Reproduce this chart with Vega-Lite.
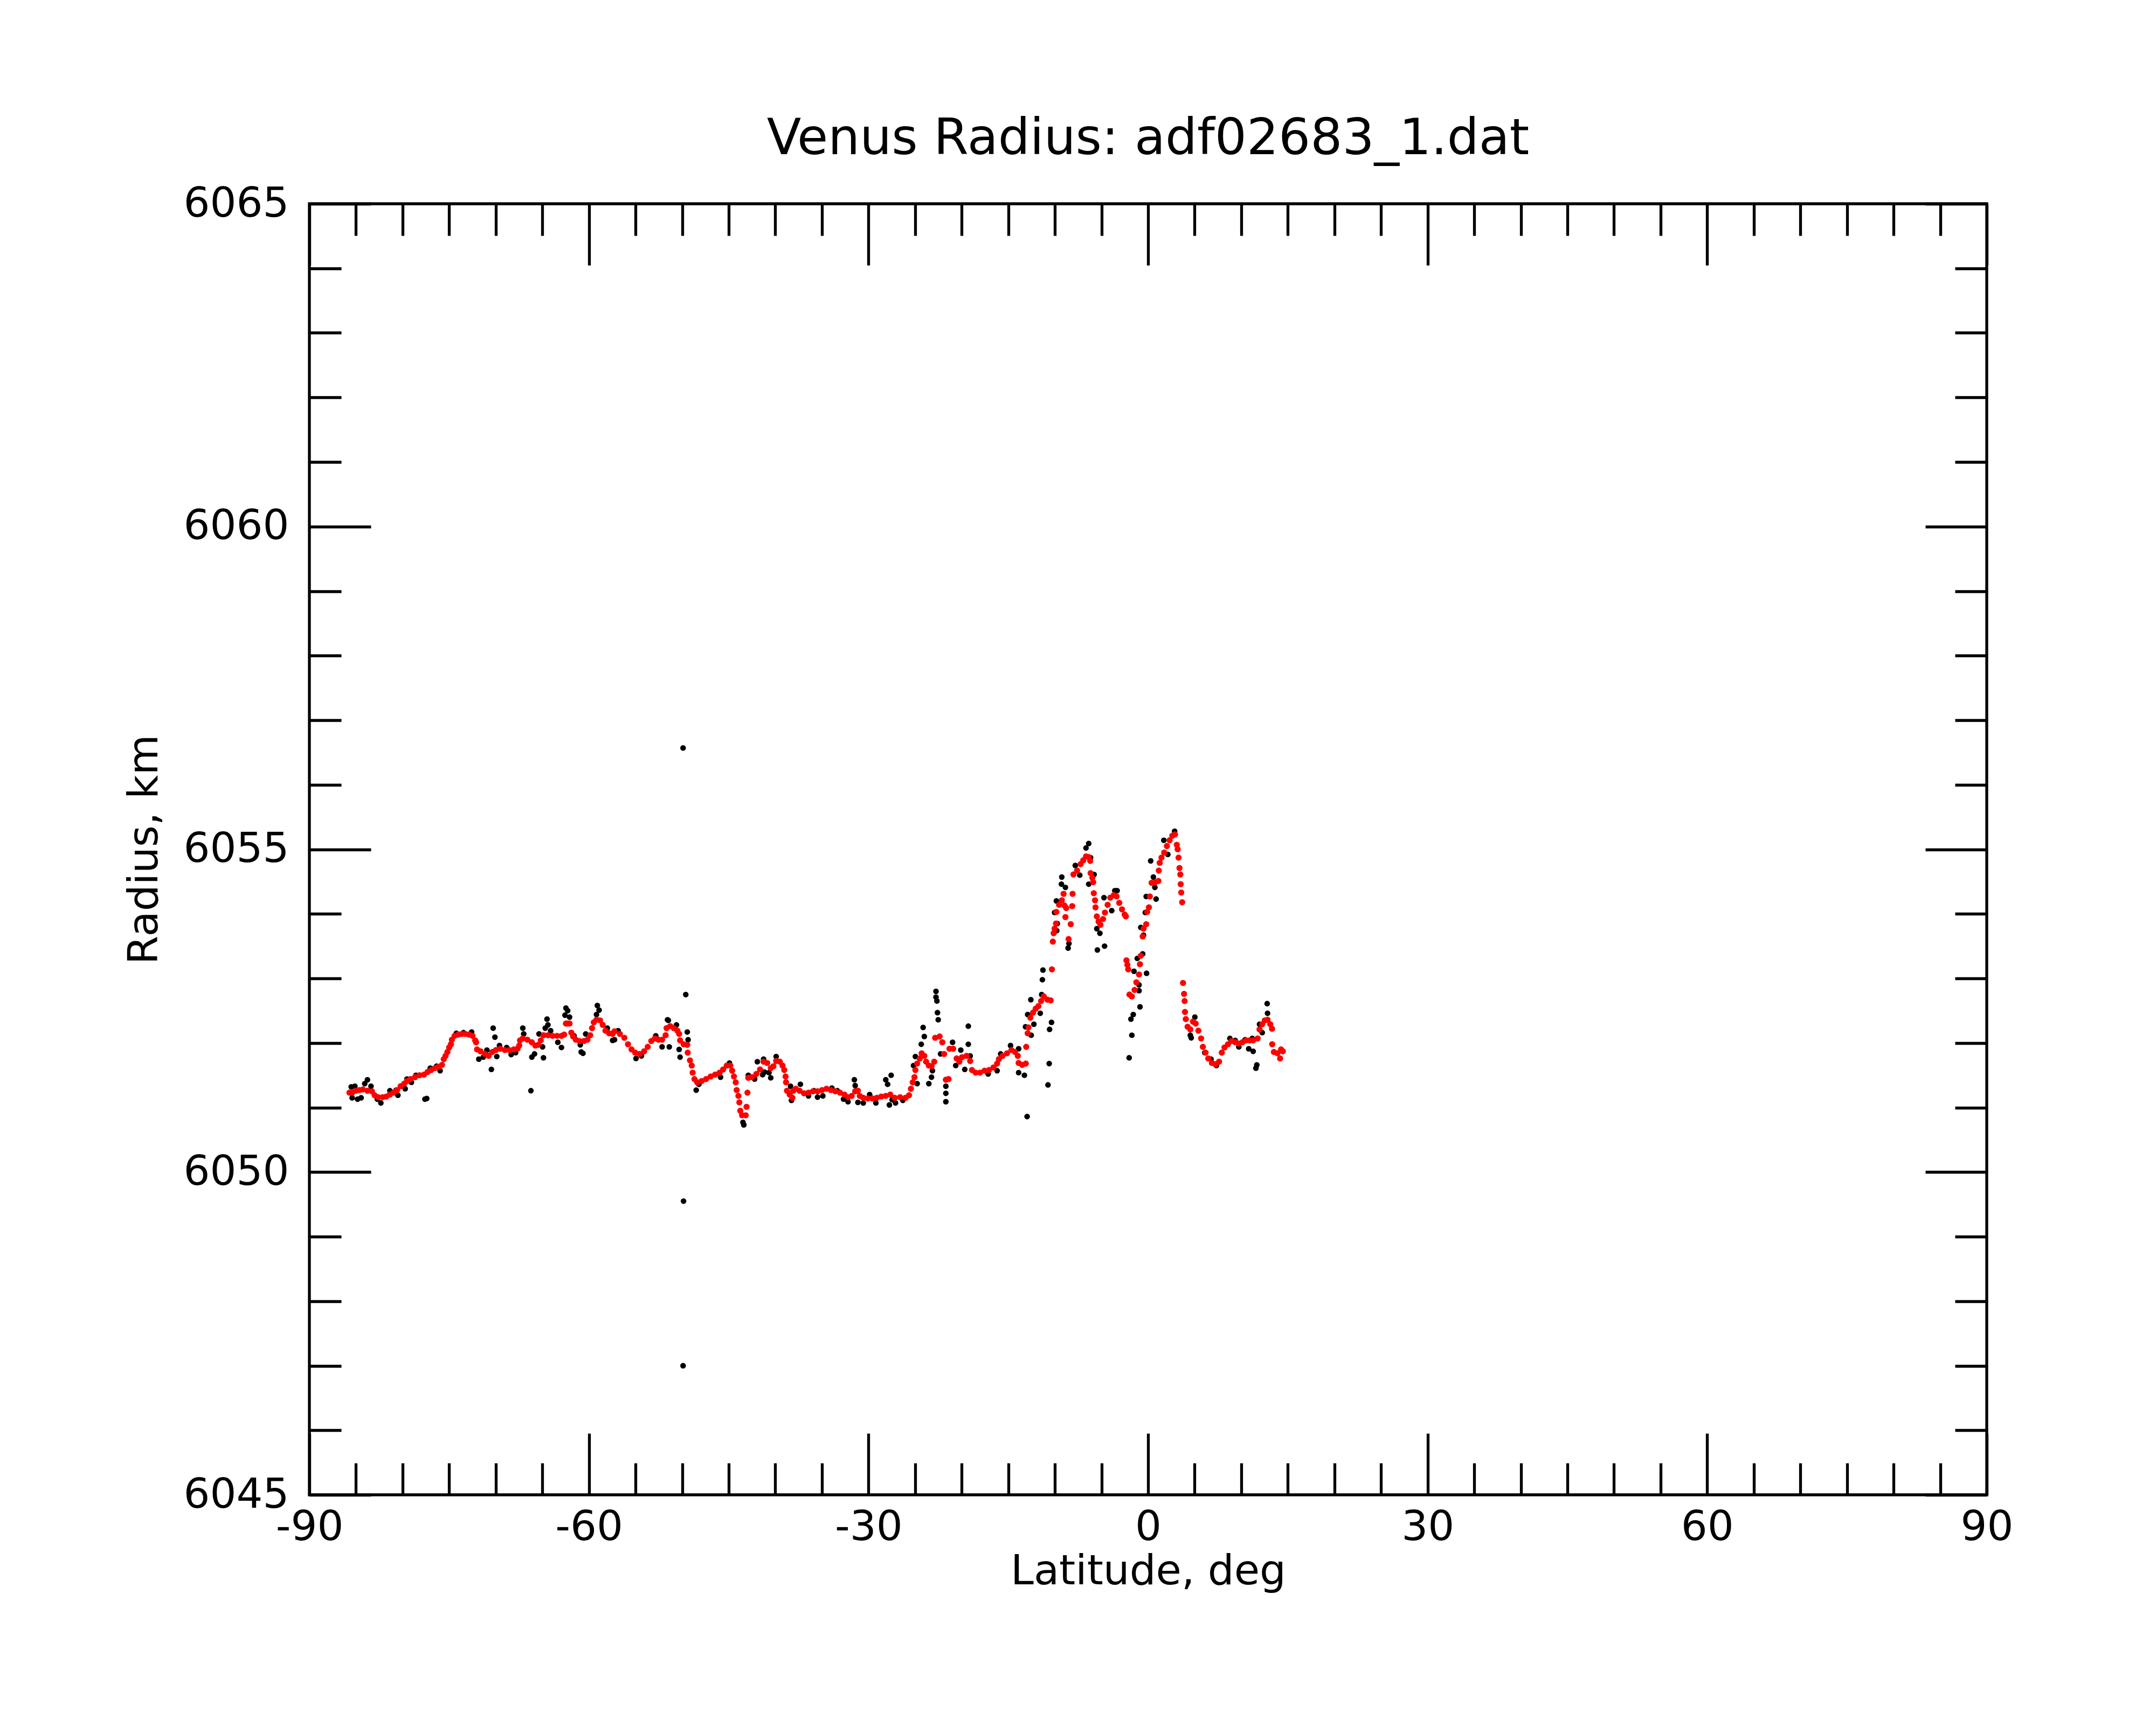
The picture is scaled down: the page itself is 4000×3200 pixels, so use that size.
{
  "$schema": "https://vega.github.io/schema/vega-lite/v6.json",
  "autosize": "none",
  "width": 3112,
  "height": 2395,
  "padding": {"left": 574, "top": 378, "right": 314, "bottom": 427},
  "background": "white",
  "title": {
    "text": "Venus Radius: adf02683_1.dat",
    "font": "DejaVu Sans",
    "fontSize": 93,
    "fontWeight": "normal",
    "color": "#000000",
    "baseline": "alphabetic",
    "anchor": "middle",
    "frame": "group",
    "offset": -40
  },
  "config": {
    "view": {"stroke": "#000000", "strokeWidth": 5.3},
    "axis": {
      "labelFont": "DejaVu Sans",
      "labelFontSize": 77,
      "labelColor": "#000000",
      "labelLimit": 0,
      "titleFont": "DejaVu Sans",
      "titleFontSize": 77,
      "titleFontWeight": "normal",
      "titleColor": "#000000",
      "domain": false,
      "ticks": false,
      "tickSize": 0,
      "grid": true,
      "gridColor": "#000000",
      "gridOpacity": 1,
      "gridWidth": 5.3,
      "gridCap": "butt"
    }
  },
  "datasets": {
    "raw": [
      {"lat": -85.51, "r": 6051.32}, {"lat": -85.12, "r": 6051.33}, {"lat": -85.41, "r": 6051.15}, {"lat": -84.83, "r": 6051.13},
      {"lat": -84.45, "r": 6051.15}, {"lat": -84.06, "r": 6051.37}, {"lat": -83.77, "r": 6051.43}, {"lat": -83.39, "r": 6051.33},
      {"lat": -82.33, "r": 6051.07}, {"lat": -82.71, "r": 6051.13}, {"lat": -81.36, "r": 6051.26}, {"lat": -80.5, "r": 6051.19},
      {"lat": -80.69, "r": 6051.27}, {"lat": -79.72, "r": 6051.29}, {"lat": -79.53, "r": 6051.44}, {"lat": -79.05, "r": 6051.39},
      {"lat": -78.57, "r": 6051.5}, {"lat": -77.6, "r": 6051.13}, {"lat": -77.41, "r": 6051.14}, {"lat": -77.03, "r": 6051.61},
      {"lat": -76.35, "r": 6051.64}, {"lat": -75.97, "r": 6051.57}, {"lat": -74.23, "r": 6052.15}, {"lat": -73.46, "r": 6052.16},
      {"lat": -72.59, "r": 6052.17}, {"lat": -71.82, "r": 6051.75}, {"lat": -71.34, "r": 6051.78}, {"lat": -70.95, "r": 6051.89},
      {"lat": -70.47, "r": 6051.59}, {"lat": -70.28, "r": 6052.23}, {"lat": -70.09, "r": 6052.09}, {"lat": -69.89, "r": 6051.79},
      {"lat": -69.6, "r": 6051.96}, {"lat": -68.83, "r": 6051.93}, {"lat": -68.35, "r": 6051.82}, {"lat": -67.87, "r": 6051.85},
      {"lat": -67.1, "r": 6052.23}, {"lat": -67.0, "r": 6052.14}, {"lat": -66.23, "r": 6051.26}, {"lat": -66.13, "r": 6051.78},
      {"lat": -65.84, "r": 6051.83}, {"lat": -65.36, "r": 6052.14}, {"lat": -64.98, "r": 6051.94}, {"lat": -64.88, "r": 6051.77},
      {"lat": -64.5, "r": 6052.37}, {"lat": -64.4, "r": 6052.28}, {"lat": -64.11, "r": 6052.19}, {"lat": -64.69, "r": 6052.23},
      {"lat": -63.34, "r": 6052.01}, {"lat": -62.95, "r": 6051.93}, {"lat": -62.47, "r": 6052.54}, {"lat": -62.28, "r": 6052.5},
      {"lat": -62.57, "r": 6052.43}, {"lat": -62.08, "r": 6052.4}, {"lat": -61.6, "r": 6052.11}, {"lat": -60.83, "r": 6051.86},
      {"lat": -60.64, "r": 6051.84}, {"lat": -60.93, "r": 6051.97}, {"lat": -60.35, "r": 6052.14}, {"lat": -59.1, "r": 6052.58},
      {"lat": -58.91, "r": 6052.51}, {"lat": -59.19, "r": 6052.44}, {"lat": -58.03, "r": 6052.23}, {"lat": -57.46, "r": 6052.04},
      {"lat": -56.87, "r": 6052.19}, {"lat": -57.26, "r": 6052.05}, {"lat": -54.95, "r": 6051.76}, {"lat": -54.37, "r": 6051.8},
      {"lat": -52.83, "r": 6052.11}, {"lat": -52.15, "r": 6051.94}, {"lat": -51.38, "r": 6051.94}, {"lat": -51.57, "r": 6052.36},
      {"lat": -51.48, "r": 6052.35}, {"lat": -50.61, "r": 6052.28}, {"lat": -50.32, "r": 6051.9}, {"lat": -50.22, "r": 6051.78},
      {"lat": -49.45, "r": 6052.17}, {"lat": -49.36, "r": 6052.05}, {"lat": -49.61, "r": 6052.75}, {"lat": -49.9, "r": 6056.57},
      {"lat": -49.85, "r": 6049.55}, {"lat": -49.9, "r": 6047.0}, {"lat": -48.49, "r": 6051.27}, {"lat": -48.2, "r": 6051.36},
      {"lat": -45.88, "r": 6051.47}, {"lat": -44.92, "r": 6051.69}, {"lat": -43.47, "r": 6050.77}, {"lat": -43.38, "r": 6050.73},
      {"lat": -42.9, "r": 6051.5}, {"lat": -42.22, "r": 6051.44}, {"lat": -41.93, "r": 6051.71}, {"lat": -41.26, "r": 6051.75},
      {"lat": -41.16, "r": 6051.55}, {"lat": -41.36, "r": 6051.51}, {"lat": -40.49, "r": 6051.46}, {"lat": -40.68, "r": 6051.54},
      {"lat": -39.91, "r": 6051.79}, {"lat": -38.37, "r": 6051.33}, {"lat": -38.27, "r": 6051.11}, {"lat": -37.31, "r": 6051.36},
      {"lat": -36.44, "r": 6051.18}, {"lat": -35.86, "r": 6051.26}, {"lat": -35.47, "r": 6051.16}, {"lat": -34.9, "r": 6051.18},
      {"lat": -33.93, "r": 6051.3}, {"lat": -33.35, "r": 6051.26}, {"lat": -32.68, "r": 6051.13}, {"lat": -32.2, "r": 6051.09},
      {"lat": -31.52, "r": 6051.43}, {"lat": -31.43, "r": 6051.34}, {"lat": -31.14, "r": 6051.08}, {"lat": -30.56, "r": 6051.07},
      {"lat": -29.88, "r": 6051.2}, {"lat": -29.21, "r": 6051.07}, {"lat": -28.15, "r": 6051.43}, {"lat": -27.95, "r": 6051.36},
      {"lat": -27.76, "r": 6051.04}, {"lat": -27.57, "r": 6051.5}, {"lat": -27.47, "r": 6051.12}, {"lat": -27.1, "r": 6051.07},
      {"lat": -26.32, "r": 6051.11}, {"lat": -25.17, "r": 6051.65}, {"lat": -24.97, "r": 6051.79}, {"lat": -24.78, "r": 6051.37},
      {"lat": -24.34, "r": 6051.98}, {"lat": -24.14, "r": 6052.24}, {"lat": -24.01, "r": 6052.1}, {"lat": -23.53, "r": 6051.37},
      {"lat": -23.24, "r": 6051.47}, {"lat": -23.14, "r": 6051.57}, {"lat": -22.76, "r": 6052.8}, {"lat": -22.76, "r": 6052.71},
      {"lat": -22.66, "r": 6052.65}, {"lat": -22.6, "r": 6052.47}, {"lat": -22.52, "r": 6052.36}, {"lat": -22.27, "r": 6051.83},
      {"lat": -21.7, "r": 6051.33}, {"lat": -21.7, "r": 6051.22}, {"lat": -21.7, "r": 6051.09}, {"lat": -20.98, "r": 6052.01},
      {"lat": -20.64, "r": 6051.65}, {"lat": -20.1, "r": 6051.89}, {"lat": -19.67, "r": 6051.59}, {"lat": -19.29, "r": 6052.26},
      {"lat": -19.29, "r": 6051.98}, {"lat": -19.09, "r": 6051.8}, {"lat": -17.16, "r": 6051.52}, {"lat": -16.2, "r": 6051.57},
      {"lat": -15.82, "r": 6051.83}, {"lat": -14.76, "r": 6051.96}, {"lat": -13.89, "r": 6051.91}, {"lat": -13.89, "r": 6051.54},
      {"lat": -13.27, "r": 6051.5}, {"lat": -12.98, "r": 6050.86}, {"lat": -13.15, "r": 6052.25}, {"lat": -12.92, "r": 6052.44},
      {"lat": -12.58, "r": 6052.67}, {"lat": -12.54, "r": 6052.12}, {"lat": -12.25, "r": 6052.29}, {"lat": -11.57, "r": 6052.46},
      {"lat": -11.42, "r": 6052.75}, {"lat": -11.28, "r": 6053.13}, {"lat": -11.34, "r": 6052.98}, {"lat": -10.74, "r": 6051.35},
      {"lat": -10.61, "r": 6051.68}, {"lat": -10.57, "r": 6052.21}, {"lat": -10.36, "r": 6052.32}, {"lat": -10.03, "r": 6054.02},
      {"lat": -9.84, "r": 6054.2}, {"lat": -9.8, "r": 6053.74}, {"lat": -9.74, "r": 6053.85}, {"lat": -9.3, "r": 6054.46},
      {"lat": -9.26, "r": 6054.57}, {"lat": -8.87, "r": 6054.41}, {"lat": -8.58, "r": 6053.47}, {"lat": -8.49, "r": 6053.54},
      {"lat": -7.81, "r": 6054.75}, {"lat": -7.33, "r": 6054.6}, {"lat": -6.66, "r": 6055.02}, {"lat": -6.37, "r": 6055.09},
      {"lat": -6.17, "r": 6054.87}, {"lat": -6.37, "r": 6054.46}, {"lat": -5.79, "r": 6054.61}, {"lat": -5.5, "r": 6053.77},
      {"lat": -5.44, "r": 6053.44}, {"lat": -5.17, "r": 6053.7}, {"lat": -4.73, "r": 6054.25}, {"lat": -4.67, "r": 6053.5},
      {"lat": -3.9, "r": 6054.05}, {"lat": -3.57, "r": 6054.36}, {"lat": -3.32, "r": 6054.36}, {"lat": -2.03, "r": 6051.77},
      {"lat": -1.84, "r": 6052.37}, {"lat": -1.74, "r": 6052.12}, {"lat": -1.59, "r": 6052.44}, {"lat": -1.51, "r": 6053.11},
      {"lat": -1.16, "r": 6053.31}, {"lat": -0.97, "r": 6052.81}, {"lat": -0.97, "r": 6052.9}, {"lat": -0.87, "r": 6052.56},
      {"lat": -0.78, "r": 6053.79}, {"lat": -0.58, "r": 6053.38}, {"lat": -0.49, "r": 6053.67}, {"lat": -0.3, "r": 6054.02},
      {"lat": -0.2, "r": 6054.27}, {"lat": -0.16, "r": 6053.08}, {"lat": 0.28, "r": 6054.82}, {"lat": 0.57, "r": 6054.57},
      {"lat": 0.73, "r": 6054.41}, {"lat": 0.86, "r": 6054.23}, {"lat": 1.69, "r": 6055.14}, {"lat": 2.12, "r": 6054.92},
      {"lat": 2.85, "r": 6055.28}, {"lat": 4.53, "r": 6052.12}, {"lat": 4.63, "r": 6052.08}, {"lat": 5.02, "r": 6052.4},
      {"lat": 6.08, "r": 6051.85}, {"lat": 6.75, "r": 6051.75}, {"lat": 7.33, "r": 6051.65}, {"lat": 8.78, "r": 6052.07},
      {"lat": 9.35, "r": 6052.04}, {"lat": 9.74, "r": 6051.94}, {"lat": 10.41, "r": 6052.05}, {"lat": 10.8, "r": 6051.91},
      {"lat": 11.18, "r": 6052.07}, {"lat": 11.28, "r": 6051.87}, {"lat": 11.57, "r": 6051.61}, {"lat": 11.67, "r": 6051.66},
      {"lat": 11.96, "r": 6052.29}, {"lat": 12.25, "r": 6052.16}, {"lat": 12.78, "r": 6052.61}, {"lat": 12.82, "r": 6052.46}
    ],
    "smooth": [
      {"lat": -85.7, "r": 6051.23}, {"lat": -85.41, "r": 6051.23}, {"lat": -85.03, "r": 6051.26}, {"lat": -84.64, "r": 6051.27},
      {"lat": -84.26, "r": 6051.28}, {"lat": -83.77, "r": 6051.26}, {"lat": -83.29, "r": 6051.25}, {"lat": -83.0, "r": 6051.19},
      {"lat": -82.62, "r": 6051.16}, {"lat": -82.14, "r": 6051.16}, {"lat": -81.75, "r": 6051.17}, {"lat": -81.36, "r": 6051.2},
      {"lat": -80.98, "r": 6051.23}, {"lat": -80.59, "r": 6051.27}, {"lat": -80.21, "r": 6051.33}, {"lat": -79.82, "r": 6051.37},
      {"lat": -79.53, "r": 6051.41}, {"lat": -79.15, "r": 6051.44}, {"lat": -78.66, "r": 6051.47}, {"lat": -78.18, "r": 6051.5},
      {"lat": -77.7, "r": 6051.51}, {"lat": -77.32, "r": 6051.55}, {"lat": -76.93, "r": 6051.58}, {"lat": -76.54, "r": 6051.61},
      {"lat": -76.16, "r": 6051.63}, {"lat": -75.77, "r": 6051.66}, {"lat": -75.58, "r": 6051.75}, {"lat": -75.39, "r": 6051.8},
      {"lat": -75.19, "r": 6051.86}, {"lat": -75.0, "r": 6051.93}, {"lat": -74.81, "r": 6051.98}, {"lat": -74.71, "r": 6052.05},
      {"lat": -74.42, "r": 6052.11}, {"lat": -74.04, "r": 6052.13}, {"lat": -73.65, "r": 6052.14}, {"lat": -73.27, "r": 6052.14},
      {"lat": -72.88, "r": 6052.13}, {"lat": -72.5, "r": 6052.11}, {"lat": -72.21, "r": 6052.04}, {"lat": -72.11, "r": 6052.01},
      {"lat": -72.01, "r": 6051.9}, {"lat": -71.63, "r": 6051.87}, {"lat": -71.15, "r": 6051.83}, {"lat": -70.76, "r": 6051.8},
      {"lat": -70.37, "r": 6051.86}, {"lat": -69.99, "r": 6051.89}, {"lat": -69.51, "r": 6051.91}, {"lat": -69.02, "r": 6051.89},
      {"lat": -68.54, "r": 6051.89}, {"lat": -68.06, "r": 6051.9}, {"lat": -67.67, "r": 6051.91}, {"lat": -67.48, "r": 6051.96},
      {"lat": -67.4, "r": 6052.04}, {"lat": -67.1, "r": 6052.07}, {"lat": -66.61, "r": 6052.05}, {"lat": -66.13, "r": 6052.01},
      {"lat": -65.75, "r": 6051.96}, {"lat": -65.46, "r": 6051.97}, {"lat": -65.17, "r": 6052.04}, {"lat": -64.88, "r": 6052.12},
      {"lat": -64.39, "r": 6052.12}, {"lat": -63.92, "r": 6052.11}, {"lat": -63.43, "r": 6052.11}, {"lat": -62.95, "r": 6052.11},
      {"lat": -62.66, "r": 6052.13}, {"lat": -62.47, "r": 6052.3}, {"lat": -62.28, "r": 6052.3}, {"lat": -62.08, "r": 6052.3},
      {"lat": -61.89, "r": 6052.16}, {"lat": -61.7, "r": 6052.1}, {"lat": -61.41, "r": 6052.05}, {"lat": -61.02, "r": 6052.03},
      {"lat": -60.54, "r": 6052.03}, {"lat": -60.16, "r": 6052.05}, {"lat": -59.87, "r": 6052.12}, {"lat": -59.67, "r": 6052.23},
      {"lat": -59.48, "r": 6052.32}, {"lat": -59.19, "r": 6052.36}, {"lat": -58.81, "r": 6052.35}, {"lat": -58.52, "r": 6052.28},
      {"lat": -58.23, "r": 6052.19}, {"lat": -57.84, "r": 6052.15}, {"lat": -57.46, "r": 6052.14}, {"lat": -57.26, "r": 6052.18},
      {"lat": -56.68, "r": 6052.14}, {"lat": -56.2, "r": 6052.08}, {"lat": -55.81, "r": 6051.98}, {"lat": -55.43, "r": 6051.9},
      {"lat": -55.04, "r": 6051.85}, {"lat": -54.56, "r": 6051.83}, {"lat": -54.08, "r": 6051.87}, {"lat": -53.69, "r": 6051.94},
      {"lat": -53.31, "r": 6052.03}, {"lat": -52.92, "r": 6052.07}, {"lat": -52.54, "r": 6052.05}, {"lat": -52.15, "r": 6052.05},
      {"lat": -51.77, "r": 6052.12}, {"lat": -51.67, "r": 6052.23}, {"lat": -51.28, "r": 6052.26}, {"lat": -50.9, "r": 6052.23},
      {"lat": -50.51, "r": 6052.19}, {"lat": -50.32, "r": 6052.14}, {"lat": -50.22, "r": 6052.04}, {"lat": -49.84, "r": 6051.98},
      {"lat": -49.45, "r": 6051.97}, {"lat": -49.4, "r": 6051.85}, {"lat": -49.16, "r": 6051.73}, {"lat": -48.97, "r": 6051.65},
      {"lat": -48.87, "r": 6051.54}, {"lat": -48.68, "r": 6051.44}, {"lat": -48.39, "r": 6051.39}, {"lat": -47.91, "r": 6051.41},
      {"lat": -47.43, "r": 6051.44}, {"lat": -46.94, "r": 6051.48}, {"lat": -46.46, "r": 6051.51}, {"lat": -45.98, "r": 6051.54},
      {"lat": -45.6, "r": 6051.59}, {"lat": -45.21, "r": 6051.65}, {"lat": -44.83, "r": 6051.65}, {"lat": -44.63, "r": 6051.57},
      {"lat": -44.44, "r": 6051.48}, {"lat": -44.25, "r": 6051.39}, {"lat": -44.15, "r": 6051.27}, {"lat": -43.96, "r": 6051.18},
      {"lat": -43.86, "r": 6051.08}, {"lat": -43.76, "r": 6050.95}, {"lat": -43.57, "r": 6050.88}, {"lat": -43.18, "r": 6050.88},
      {"lat": -43.09, "r": 6051.01}, {"lat": -42.99, "r": 6051.23}, {"lat": -42.9, "r": 6051.46}, {"lat": -42.51, "r": 6051.47},
      {"lat": -42.03, "r": 6051.52}, {"lat": -41.64, "r": 6051.59}, {"lat": -41.26, "r": 6051.71}, {"lat": -40.87, "r": 6051.69},
      {"lat": -40.49, "r": 6051.61}, {"lat": -40.2, "r": 6051.64}, {"lat": -39.91, "r": 6051.72}, {"lat": -39.52, "r": 6051.71},
      {"lat": -39.23, "r": 6051.65}, {"lat": -39.04, "r": 6051.58}, {"lat": -38.9, "r": 6051.48}, {"lat": -38.85, "r": 6051.39},
      {"lat": -38.75, "r": 6051.26}, {"lat": -38.46, "r": 6051.2}, {"lat": -38.17, "r": 6051.15}, {"lat": -38.08, "r": 6051.26},
      {"lat": -37.79, "r": 6051.29}, {"lat": -37.4, "r": 6051.26}, {"lat": -36.92, "r": 6051.22}, {"lat": -36.44, "r": 6051.23},
      {"lat": -35.96, "r": 6051.25}, {"lat": -35.47, "r": 6051.25}, {"lat": -34.99, "r": 6051.27}, {"lat": -34.51, "r": 6051.29},
      {"lat": -34.03, "r": 6051.27}, {"lat": -33.55, "r": 6051.25}, {"lat": -33.06, "r": 6051.23}, {"lat": -32.58, "r": 6051.2},
      {"lat": -32.2, "r": 6051.16}, {"lat": -31.81, "r": 6051.18}, {"lat": -31.43, "r": 6051.25}, {"lat": -31.14, "r": 6051.26},
      {"lat": -30.94, "r": 6051.18}, {"lat": -30.56, "r": 6051.15}, {"lat": -30.08, "r": 6051.14}, {"lat": -29.59, "r": 6051.14},
      {"lat": -29.11, "r": 6051.15}, {"lat": -28.63, "r": 6051.17}, {"lat": -28.15, "r": 6051.18}, {"lat": -27.66, "r": 6051.2},
      {"lat": -27.19, "r": 6051.15}, {"lat": -26.61, "r": 6051.16}, {"lat": -26.03, "r": 6051.15}, {"lat": -25.65, "r": 6051.19},
      {"lat": -25.45, "r": 6051.29}, {"lat": -25.26, "r": 6051.39}, {"lat": -25.07, "r": 6051.47}, {"lat": -24.97, "r": 6051.58},
      {"lat": -24.78, "r": 6051.68}, {"lat": -24.49, "r": 6051.76}, {"lat": -24.3, "r": 6051.84}, {"lat": -24.01, "r": 6051.8},
      {"lat": -23.82, "r": 6051.71}, {"lat": -23.53, "r": 6051.65}, {"lat": -23.24, "r": 6051.64}, {"lat": -22.95, "r": 6051.71},
      {"lat": -22.85, "r": 6052.08}, {"lat": -22.37, "r": 6052.1}, {"lat": -22.08, "r": 6052.01}, {"lat": -21.89, "r": 6051.83},
      {"lat": -21.7, "r": 6051.43}, {"lat": -21.41, "r": 6051.44}, {"lat": -21.31, "r": 6051.91}, {"lat": -20.92, "r": 6051.91},
      {"lat": -20.54, "r": 6051.76}, {"lat": -20.25, "r": 6051.71}, {"lat": -19.96, "r": 6051.78}, {"lat": -19.48, "r": 6051.8},
      {"lat": -19.09, "r": 6051.72}, {"lat": -18.9, "r": 6051.58}, {"lat": -18.51, "r": 6051.54}, {"lat": -18.03, "r": 6051.54},
      {"lat": -17.55, "r": 6051.57}, {"lat": -17.07, "r": 6051.58}, {"lat": -16.59, "r": 6051.62}, {"lat": -16.2, "r": 6051.68},
      {"lat": -16.01, "r": 6051.75}, {"lat": -15.62, "r": 6051.8}, {"lat": -15.14, "r": 6051.84}, {"lat": -14.66, "r": 6051.89},
      {"lat": -14.27, "r": 6051.86}, {"lat": -13.98, "r": 6051.8}, {"lat": -13.89, "r": 6051.69}, {"lat": -13.5, "r": 6051.66},
      {"lat": -13.12, "r": 6051.68}, {"lat": -13.08, "r": 6051.94}, {"lat": -12.92, "r": 6052.15}, {"lat": -12.83, "r": 6052.24},
      {"lat": -12.63, "r": 6052.39}, {"lat": -12.35, "r": 6052.47}, {"lat": -12.06, "r": 6052.53}, {"lat": -11.77, "r": 6052.57},
      {"lat": -11.48, "r": 6052.65}, {"lat": -11.19, "r": 6052.72}, {"lat": -10.8, "r": 6052.67}, {"lat": -10.45, "r": 6052.66},
      {"lat": -10.32, "r": 6053.14}, {"lat": -10.22, "r": 6053.57}, {"lat": -10.13, "r": 6053.7}, {"lat": -10.03, "r": 6053.77},
      {"lat": -9.88, "r": 6053.85}, {"lat": -9.84, "r": 6054.03}, {"lat": -9.55, "r": 6054.14}, {"lat": -9.26, "r": 6054.21},
      {"lat": -9.07, "r": 6054.31}, {"lat": -8.97, "r": 6054.13}, {"lat": -8.78, "r": 6054.09}, {"lat": -8.87, "r": 6053.95},
      {"lat": -8.53, "r": 6053.61}, {"lat": -8.3, "r": 6053.84}, {"lat": -8.14, "r": 6054.12}, {"lat": -8.1, "r": 6054.31},
      {"lat": -8.01, "r": 6054.61}, {"lat": -7.62, "r": 6054.67}, {"lat": -7.24, "r": 6054.77}, {"lat": -6.95, "r": 6054.83},
      {"lat": -6.66, "r": 6054.89}, {"lat": -6.37, "r": 6054.88}, {"lat": -6.21, "r": 6054.82}, {"lat": -6.17, "r": 6054.63},
      {"lat": -5.98, "r": 6054.56}, {"lat": -5.89, "r": 6054.49}, {"lat": -5.83, "r": 6054.32}, {"lat": -5.69, "r": 6054.21},
      {"lat": -5.64, "r": 6054.1}, {"lat": -5.5, "r": 6053.96}, {"lat": -5.31, "r": 6053.88}, {"lat": -5.11, "r": 6053.83},
      {"lat": -4.83, "r": 6053.92}, {"lat": -4.63, "r": 6054.02}, {"lat": -4.34, "r": 6054.14}, {"lat": -4.05, "r": 6054.25},
      {"lat": -3.67, "r": 6054.29}, {"lat": -3.38, "r": 6054.27}, {"lat": -3.09, "r": 6054.17}, {"lat": -2.8, "r": 6054.07},
      {"lat": -2.51, "r": 6053.99}, {"lat": -2.38, "r": 6053.96}, {"lat": -2.32, "r": 6053.28}, {"lat": -2.22, "r": 6053.21},
      {"lat": -2.13, "r": 6053.14}, {"lat": -2.0, "r": 6052.75}, {"lat": -1.74, "r": 6052.72}, {"lat": -1.45, "r": 6052.82},
      {"lat": -1.26, "r": 6052.94}, {"lat": -0.97, "r": 6053.06}, {"lat": -0.87, "r": 6053.22}, {"lat": -0.78, "r": 6053.35},
      {"lat": -0.58, "r": 6053.65}, {"lat": -0.49, "r": 6053.77}, {"lat": -0.2, "r": 6053.84}, {"lat": -0.1, "r": 6054.03},
      {"lat": 0.09, "r": 6054.1}, {"lat": 0.19, "r": 6054.27}, {"lat": 0.38, "r": 6054.48}, {"lat": 0.77, "r": 6054.49},
      {"lat": 1.11, "r": 6054.51}, {"lat": 1.15, "r": 6054.67}, {"lat": 1.25, "r": 6054.79}, {"lat": 1.44, "r": 6054.87},
      {"lat": 1.73, "r": 6054.95}, {"lat": 2.02, "r": 6055.05}, {"lat": 2.31, "r": 6055.14}, {"lat": 2.6, "r": 6055.21},
      {"lat": 2.89, "r": 6055.23}, {"lat": 3.08, "r": 6055.07}, {"lat": 3.18, "r": 6055.0}, {"lat": 3.27, "r": 6054.87},
      {"lat": 3.37, "r": 6054.71}, {"lat": 3.46, "r": 6054.61}, {"lat": 3.5, "r": 6054.46}, {"lat": 3.56, "r": 6054.33},
      {"lat": 3.66, "r": 6054.18}, {"lat": 3.75, "r": 6052.93}, {"lat": 3.86, "r": 6052.76}, {"lat": 3.92, "r": 6052.65},
      {"lat": 3.96, "r": 6052.48}, {"lat": 4.05, "r": 6052.37}, {"lat": 4.24, "r": 6052.25}, {"lat": 4.53, "r": 6052.21},
      {"lat": 4.82, "r": 6052.33}, {"lat": 5.11, "r": 6052.3}, {"lat": 5.4, "r": 6052.19}, {"lat": 5.69, "r": 6052.07},
      {"lat": 5.88, "r": 6051.94}, {"lat": 6.17, "r": 6051.85}, {"lat": 6.46, "r": 6051.76}, {"lat": 6.85, "r": 6051.69},
      {"lat": 7.23, "r": 6051.67}, {"lat": 7.62, "r": 6051.71}, {"lat": 7.91, "r": 6051.85}, {"lat": 8.2, "r": 6051.93},
      {"lat": 8.58, "r": 6051.98}, {"lat": 8.97, "r": 6052.03}, {"lat": 9.35, "r": 6052.01}, {"lat": 9.74, "r": 6051.99},
      {"lat": 10.12, "r": 6052.01}, {"lat": 10.51, "r": 6052.04}, {"lat": 10.9, "r": 6052.04}, {"lat": 11.28, "r": 6052.04},
      {"lat": 11.76, "r": 6052.07}, {"lat": 11.96, "r": 6052.21}, {"lat": 12.25, "r": 6052.29}, {"lat": 12.53, "r": 6052.35},
      {"lat": 12.82, "r": 6052.36}, {"lat": 13.11, "r": 6052.29}, {"lat": 13.3, "r": 6052.22}, {"lat": 13.32, "r": 6051.98},
      {"lat": 13.5, "r": 6051.86}, {"lat": 13.88, "r": 6051.84}, {"lat": 14.17, "r": 6051.76}, {"lat": 14.27, "r": 6051.9},
      {"lat": 14.46, "r": 6051.87}
    ]
  },
  "layer": [
    {
      "data": {"name": "raw"},
      "mark": {"type": "circle", "size": 110, "color": "#000000", "opacity": 1},
      "encoding": {
        "x": {
          "field": "lat", "type": "quantitative",
          "scale": {"domain": [-90, 90], "nice": false, "zero": false},
          "axis": {
            "orient": "bottom",
            "grid": true,
            "values": [-90, -60, -30, 0, 30, 60, 90],
            "labelExpr": "toString(datum.value)",
            "labelPadding": 22,
            "labelFlush": false,
            "labelOverlap": false,
            "gridDash": [114, 2167],
            "title": "Latitude, deg",
            "titlePadding": 6
          }
        },
        "y": {
          "field": "r", "type": "quantitative",
          "scale": {"domain": [6045, 6065], "nice": false, "zero": false},
          "axis": {
            "orient": "left",
            "grid": true,
            "values": [6045, 6050, 6055, 6060, 6065],
            "labelExpr": "toString(datum.value)",
            "labelPadding": 38,
            "labelFlush": false,
            "labelOverlap": false,
            "gridDash": [114, 2884],
            "title": "Radius, km",
            "titlePadding": 67
          }
        }
      }
    },
    {
      "data": {"name": "smooth"},
      "mark": {"type": "circle", "size": 130, "color": "#ff0000", "opacity": 1},
      "encoding": {
        "x": {
          "field": "lat", "type": "quantitative",
          "scale": {"domain": [-90, 90], "nice": false, "zero": false},
          "axis": {
            "orient": "top",
            "grid": true,
            "values": [-85, -80, -75, -70, -65, -55, -50, -45, -40, -35, -25, -20, -15, -10, -5, 5, 10, 15, 20, 25, 35, 40, 45, 50, 55, 65, 70, 75, 80, 85],
            "labels": false,
            "gridDash": [59, 2277],
            "title": null
          }
        },
        "y": {
          "field": "r", "type": "quantitative",
          "scale": {"domain": [6045, 6065], "nice": false, "zero": false},
          "axis": {
            "orient": "right",
            "grid": true,
            "values": [6046, 6047, 6048, 6049, 6051, 6052, 6053, 6054, 6056, 6057, 6058, 6059, 6061, 6062, 6063, 6064],
            "labels": false,
            "gridDash": [59, 2994],
            "title": null
          }
        }
      }
    }
  ],
  "resolve": {
    "scale": {"x": "independent", "y": "independent"},
    "axis": {"x": "independent", "y": "independent"}
  }
}
